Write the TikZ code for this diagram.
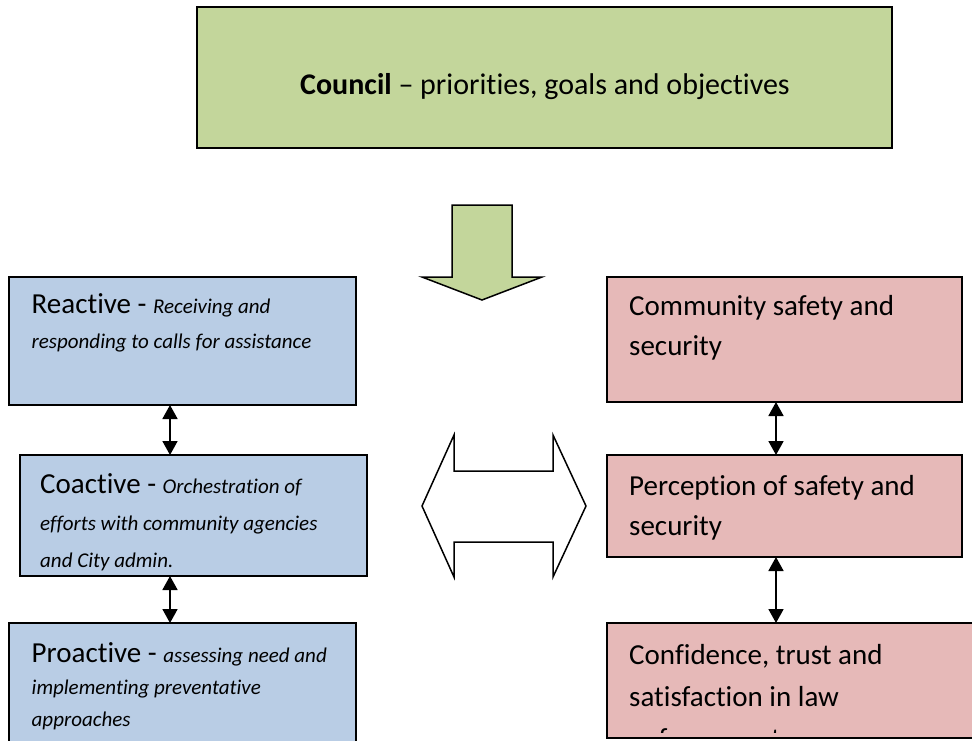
\documentclass[tikz,border=0pt]{standalone}
\usepackage{fontspec}
\setmainfont{Carlito}[Ligatures={TeX,NoCommon}]
\usetikzlibrary{arrows.meta}
\definecolor{cgreen}{HTML}{C3D69B}
\definecolor{cblue}{HTML}{B9CDE5}
\definecolor{cred}{HTML}{E6B9B8}
\begin{document}
\begin{tikzpicture}[x=1pt,y=-1pt,
  box/.style={draw=black, line width=1.8pt, inner sep=0pt, outer sep=0pt, anchor=north west},
  txt/.style={inner sep=0pt, align=left, anchor=base west},
  big/.style={font=\fontsize{29}{40}\selectfont},
  dbl/.style={line width=1.8pt, {Triangle[length=14pt,width=15pt]}-{Triangle[length=14pt,width=15pt]}},
  bigarrow/.style={draw=black, line width=1.5pt, line join=miter}
]
\clip (0,0) rectangle (972,740);
\fill[white] (0,0) rectangle (972,740);

% Council
\node[box, fill=cgreen, minimum width=695pt, minimum height=141pt] (council) at (197,7) {};
\node[inner sep=0pt, anchor=base, font=\fontsize{30}{35}\selectfont] (counciltxt) at (545,94)
  {\textbf{Council} – priorities, goals and objectives};

% green down arrow
\draw[bigarrow, fill=cgreen] (452,205) -- (512,205) -- (512,277) -- (542,277) -- (482,300)
  -- (422,277) -- (452,277) -- cycle;

% hollow double arrow
\draw[bigarrow, fill=white] (422,506) -- (454,435) -- (454,471) -- (553,471) -- (553,435)
  -- (586,506) -- (553,577) -- (553,542) -- (454,542) -- (454,577) -- cycle;

% left boxes
\node[box, fill=cblue, minimum width=347pt, minimum height=128pt] (reactive) at (9,277) {};
\node[box, fill=cblue, minimum width=347pt, minimum height=121pt] (coactive) at (20,455) {};
\node[box, fill=cblue, minimum width=347pt, minimum height=140pt] (proactive) at (9,623) {};

% text nodes: base anchor = baseline of the last line
\node[txt, font=\fontsize{29}{35}\selectfont] (reactivetxt) at (31.5,348)
  {Reactive - {\fontsize{21}{35}\selectfont\itshape Receiving and}\\
   {\fontsize{21}{35}\selectfont\itshape responding to calls for assistance}};
\node[txt, font=\fontsize{29}{37}\selectfont] (coactivetxt) at (40,567)
  {Coactive - {\fontsize{21}{37}\selectfont\itshape Orchestration of}\\
   {\fontsize{21}{37}\selectfont\itshape efforts with community agencies}\\
   {\fontsize{21}{37}\selectfont\itshape and City admin.}};
\node[txt, font=\fontsize{29}{32}\selectfont] (proactivetxt) at (31.5,726)
  {Proactive - {\fontsize{21}{32}\selectfont\itshape assessing need and}\\
   {\fontsize{21}{32}\selectfont\itshape implementing preventative}\\
   {\fontsize{21}{32}\selectfont\itshape approaches}};

% right boxes
\node[box, fill=cred, minimum width=355pt, minimum height=125pt] (community) at (607,277) {};
\node[box, fill=cred, minimum width=355pt, minimum height=102pt] (perception) at (607,455) {};
\node[box, fill=cred, minimum width=375pt, minimum height=115pt] (confidence) at (607,623) {};

\node[txt, big] (communitytxt) at (629,355.5) {Community safety and\\security};
\node[txt, big] (perceptiontxt) at (629,535) {Perception of safety and\\security};
\begin{scope}
\clip (607,623) rectangle (972,732);
\node[txt, font=\fontsize{29}{42}\selectfont] (confidencetxt) at (629,748) {Confidence, trust and\\satisfaction in law\\enforcement};
\end{scope}

% small double arrows
\coordinate (lx) at (170,0);
\coordinate (rx) at (776,0);
\draw[dbl] (reactive.south -| lx) -- (coactive.north -| lx);
\draw[dbl] (coactive.south -| lx) -- (proactive.north -| lx);
\draw[dbl] (community.south -| rx) -- (perception.north -| rx);
\draw[dbl] (perception.south -| rx) -- (confidence.north -| rx);
\end{tikzpicture}
\end{document}
